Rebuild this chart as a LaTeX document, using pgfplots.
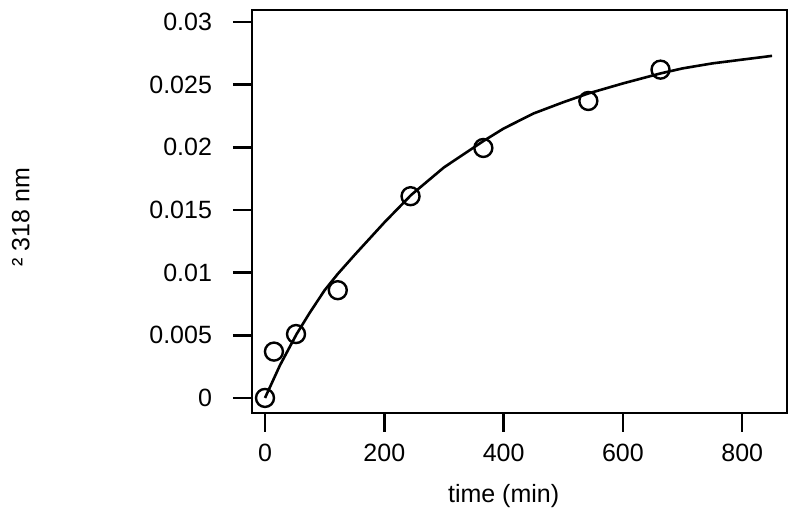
\documentclass[border=0pt]{standalone}
\usepackage{fontspec}
\setmainfont{Liberation Sans}
\usepackage{pgfplots}
\pgfplotsset{compat=1.18}

\begin{document}
\begin{tikzpicture}
\path[use as bounding box] (-126pt,-50.5pt) rectangle (274pt,206.5pt);
\begin{axis}[
  scale only axis,
  width=267.5pt, height=201.5pt,
  xmin=-21.8, xmax=875,
  ymin=-0.0012, ymax=0.03096,
  axis line style={line width=1.2pt},
  tick style={line width=1.2pt, black},
  tick align=outside, tick pos=left,
  major tick length=9.5pt,
  xtick={0,200,400,600,800},
  ytick={0,0.005,0.01,0.015,0.02,0.025,0.03},
  yticklabels={0,0.005,0.01,0.015,0.02,0.025,0.03},
  scaled y ticks=false,
  /pgf/number format/assume math mode=true,
  tick label style={font=\fontsize{12.5}{14}\selectfont},
  xticklabel style={yshift=-2.5pt},
  yticklabel style={xshift=-7pt},
  label style={font=\fontsize{12.5}{14}\selectfont},
  xlabel={time (min)},
  xlabel style={at={(axis cs:400,-0.0012)}, anchor=center, yshift=-41.5pt},
  ylabel={² 318 nm},
  ylabel style={at={(axis description cs:-0.432,0.486)}, anchor=center},
]
\addplot[black, line width=1.3pt, no marks] coordinates {
(0,0) (25,0.0026) (53,0.0051) (75,0.0068) (100,0.0086) (122,0.0099)
(150,0.0114) (200,0.0140) (245,0.0162) (300,0.0184) (366,0.0205)
(400,0.0215) (450,0.0227) (500,0.0236) (542,0.0243) (600,0.0251)
(663,0.0259) (700,0.0263) (750,0.0267) (800,0.0270) (850,0.0273)
};
\addplot[only marks, mark=o, mark size=4.5pt, mark options={line width=1.2pt, black}] coordinates {
(0,0) (15,0.0037) (52,0.0051) (122,0.0086) (244,0.0161)
(366,0.01995) (542,0.0237) (663,0.0262)
};
\end{axis}
\end{tikzpicture}
\end{document}
